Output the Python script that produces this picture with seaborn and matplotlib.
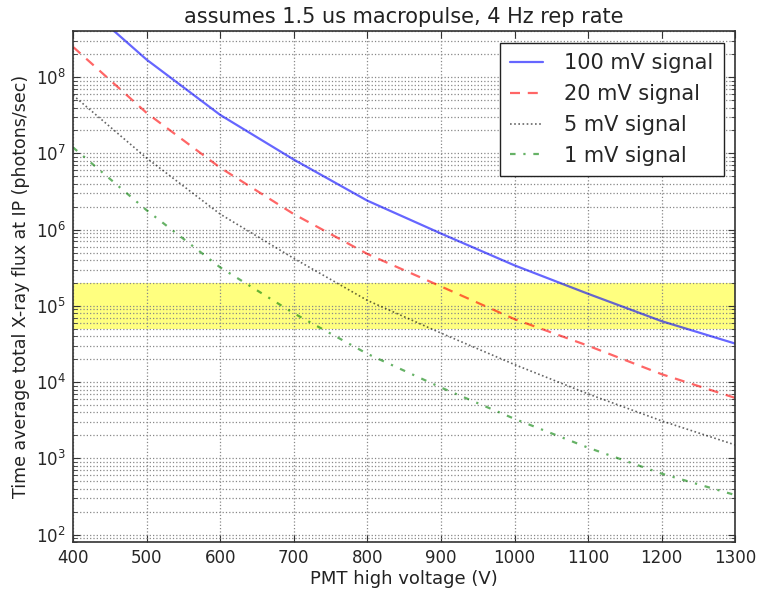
import numpy as np
import pandas as pd
import matplotlib
matplotlib.use("Agg")
import matplotlib.pyplot as plt
from matplotlib.ticker import NullFormatter
import seaborn as sns

# PMT high voltage (V)
voltage = [400, 500, 600, 700, 800, 900, 1000, 1100, 1200, 1300]

# Time-averaged total X-ray flux at IP (photons/sec) needed for a given PMT signal
flux_100mV = [1.2e9, 1.7e8, 3.2e7, 8.3e6, 2.4e6, 8.9e5, 3.4e5, 1.44e5, 6.3e4, 3.2e4]
flux_20mV = [2.5e8, 3.4e7, 6.5e6, 1.6e6, 4.8e5, 1.8e5, 6.7e4, 3.0e4, 1.27e4, 6.2e3]
flux_5mV = [5.8e7, 8.7e6, 1.6e6, 4.2e5, 1.18e5, 4.4e4, 1.7e4, 7.0e3, 3.1e3, 1.5e3]
flux_1mV = [1.2e7, 1.8e6, 3.2e5, 8.0e4, 2.35e4, 8.5e3, 3.3e3, 1.38e3, 630, 330]

labels = ["100 mV signal", "20 mV signal", "5 mV signal", "1 mV signal"]
series = [flux_100mV, flux_20mV, flux_5mV, flux_1mV]

# target flux window
band_low, band_high = 5e4, 2e5

df = pd.concat(
    [pd.DataFrame({"voltage": voltage, "flux": vals, "signal": lab})
     for lab, vals in zip(labels, series)],
    ignore_index=True,
)

sns.set_style("white")
plt.rcParams["font.family"] = ["DejaVu Sans"]
plt.rcParams["xtick.direction"] = "in"
plt.rcParams["ytick.direction"] = "in"

fig = plt.figure(figsize=(7.58, 5.90), dpi=100)
ax = fig.add_axes([0.0963, 0.0814, 0.8737, 0.8656])

styles = {
    "100 mV signal": dict(color="blue", linestyle="-", alpha=0.6, linewidth=1.6),
    "20 mV signal": dict(color="red", linestyle=(0, (4.5, 3.5)), alpha=0.6, linewidth=1.6),
    "5 mV signal": dict(color="black", linestyle=(0, (1, 1.5)), alpha=0.6, linewidth=1.2),
    "1 mV signal": dict(color="green", linestyle=(0, (2.5, 3.5, 1, 3.5)), alpha=0.6, linewidth=1.6),
}

for lab in labels:
    sub = df[df["signal"] == lab]
    sns.lineplot(data=sub, x="voltage", y="flux", ax=ax, label=lab, **styles[lab])

ax.axhspan(band_low, band_high, color="yellow", alpha=0.5, linewidth=0, zorder=0.5)

ax.set_yscale("log")
ax.set_xlim(400, 1300)
ax.set_ylim(80, 4e8)
ax.set_xticks(np.arange(400, 1301, 100))
ax.yaxis.set_minor_formatter(NullFormatter())
ax.xaxis.set_minor_formatter(NullFormatter())
ax.xaxis.get_offset_text().set_visible(False)
ax.yaxis.get_offset_text().set_visible(False)

ax.grid(True, which="major", axis="both", color="#888888", linestyle=":", linewidth=0.9)
ax.grid(True, which="minor", axis="y", color="#888888", linestyle=":", linewidth=0.9)

for sp in ax.spines.values():
    sp.set_color("#333333")
    sp.set_linewidth(1.2)
    sp.set_visible(True)

ax.tick_params(axis="both", which="major", labelsize=12, length=5, color="#333333",
               top=True, right=True, left=True, bottom=True, pad=5)
ax.tick_params(axis="y", which="minor", length=3, color="#333333", left=True, right=True)

ax.set_xlabel("PMT high voltage (V)", fontsize=13, color="#222222", labelpad=2)
ax.set_ylabel("Time average total X-ray flux at IP (photons/sec)", fontsize=12.5,
              color="#222222")
ax.set_title("assumes 1.5 us macropulse, 4 Hz rep rate", fontsize=15, color="#222222")

leg = ax.legend(loc="upper right", fontsize=15, frameon=True, fancybox=False,
                handlelength=1.6, handletextpad=1.0, borderpad=0.5,
                labelspacing=0.52, borderaxespad=0.55)
leg.get_frame().set_edgecolor("#222222")
leg.get_frame().set_linewidth(1.0)
leg.get_frame().set_alpha(1.0)

fig.savefig("out.png", dpi=100)
